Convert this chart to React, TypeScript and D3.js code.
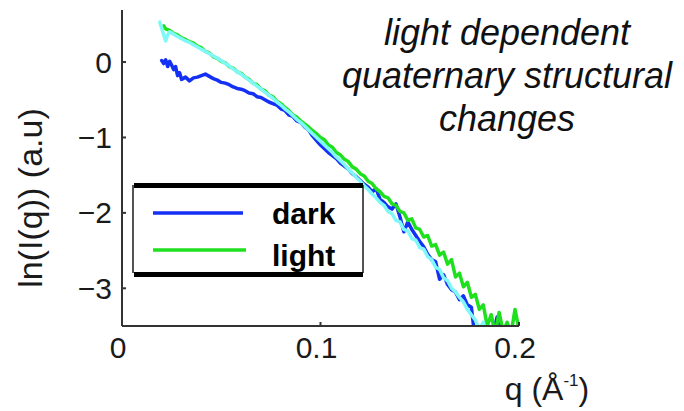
import React from "react";
import * as d3 from "d3";

// ---- data ----
const qDark = [0.020,0.021,0.022,0.023,0.024,0.025,0.026,0.027,0.028,0.029,0.030,0.032,0.034,0.036,0.038,0.040,0.042,0.044,0.046,0.048,0.050,0.052,0.054,0.056,0.058,0.060,0.062,0.064,0.066,0.068,0.070,0.072,0.074,0.076,0.078,0.080,0.082,0.084,0.086,0.088,0.090,0.092,0.094,0.096,0.098,0.100,0.102,0.104,0.106,0.108,0.110,0.112,0.114,0.116,0.118,0.120,0.122,0.124,0.126,0.128,0.130,0.132,0.134,0.136,0.138,0.140,0.142,0.144,0.146,0.148,0.150,0.152,0.154,0.156,0.158,0.160,0.162,0.164,0.166,0.168,0.170,0.172,0.174,0.176,0.178,0.180,0.182,0.186,0.189,0.191,0.195];
const lnDark = [0.02,-0.02,0.03,-0.06,0.01,-0.04,-0.10,-0.06,-0.18,-0.14,-0.23,-0.20,-0.25,-0.21,-0.20,-0.18,-0.16,-0.19,-0.22,-0.24,-0.27,-0.28,-0.30,-0.33,-0.35,-0.36,-0.38,-0.41,-0.42,-0.46,-0.47,-0.50,-0.53,-0.55,-0.57,-0.62,-0.64,-0.70,-0.72,-0.78,-0.80,-0.86,-0.90,-0.98,-1.04,-1.10,-1.15,-1.20,-1.24,-1.28,-1.34,-1.38,-1.42,-1.48,-1.52,-1.57,-1.62,-1.66,-1.72,-1.68,-1.82,-1.86,-1.92,-1.95,-1.88,-2.05,-2.25,-2.12,-2.22,-2.30,-2.38,-2.45,-2.55,-2.62,-2.65,-2.88,-2.82,-2.95,-3.02,-3.05,-3.15,-3.10,-3.22,-3.25,-3.70,-3.80,-3.90,-3.70,-3.38,-3.70,-3.80];

const qLight = [0.021,0.022,0.024,0.026,0.028,0.030,0.032,0.034,0.036,0.038,0.040,0.042,0.044,0.046,0.048,0.050,0.052,0.054,0.056,0.058,0.060,0.062,0.064,0.066,0.068,0.070,0.072,0.074,0.076,0.078,0.080,0.082,0.084,0.086,0.088,0.090,0.092,0.094,0.096,0.098,0.100,0.102,0.104,0.106,0.108,0.110,0.112,0.114,0.116,0.118,0.120,0.122,0.124,0.126,0.128,0.130,0.132,0.134,0.136,0.138,0.140,0.142,0.144,0.146,0.148,0.150,0.152,0.154,0.156,0.158,0.160,0.162,0.164,0.166,0.168,0.170,0.172,0.174,0.176,0.178,0.180,0.182,0.184,0.186,0.188,0.190,0.192,0.194,0.196,0.198,0.200];
const lnLight = [0.48,0.44,0.42,0.38,0.36,0.32,0.30,0.27,0.25,0.21,0.19,0.14,0.12,0.07,0.05,0.01,-0.01,-0.06,-0.08,-0.13,-0.15,-0.20,-0.23,-0.28,-0.30,-0.36,-0.38,-0.44,-0.46,-0.52,-0.55,-0.60,-0.64,-0.70,-0.73,-0.78,-0.82,-0.86,-0.91,-0.95,-1.00,-1.03,-1.10,-1.13,-1.20,-1.23,-1.29,-1.32,-1.39,-1.42,-1.48,-1.51,-1.58,-1.61,-1.68,-1.72,-1.78,-1.80,-1.88,-1.90,-1.98,-2.00,-2.10,-2.08,-2.20,-2.22,-2.32,-2.30,-2.44,-2.42,-2.56,-2.52,-2.68,-2.62,-2.85,-2.80,-2.98,-2.92,-3.12,-3.08,-3.28,-3.22,-3.50,-3.35,-3.60,-3.32,-3.58,-3.45,-3.60,-3.28,-3.55];

const qFit = [0.019,0.020,0.021,0.022,0.023,0.024,0.026,0.028,0.030,0.032,0.034,0.036,0.038,0.040,0.042,0.044,0.046,0.048,0.050,0.052,0.054,0.056,0.058,0.060,0.062,0.064,0.066,0.068,0.070,0.072,0.074,0.076,0.078,0.080,0.082,0.084,0.086,0.088,0.090,0.092,0.094,0.096,0.098,0.100,0.102,0.104,0.106,0.108,0.110,0.112,0.114,0.116,0.118,0.120,0.122,0.124,0.126,0.128,0.130,0.132,0.134,0.136,0.138,0.140,0.142,0.144,0.146,0.148,0.150,0.152,0.154,0.156,0.158,0.160,0.162,0.164,0.166,0.168,0.170,0.172,0.174,0.176,0.178,0.180,0.182,0.184];
const lnFit = [0.53,0.45,0.36,0.28,0.36,0.40,0.37,0.34,0.31,0.28,0.26,0.23,0.20,0.17,0.14,0.11,0.08,0.05,0.02,-0.02,-0.05,-0.09,-0.13,-0.16,-0.20,-0.24,-0.28,-0.32,-0.36,-0.40,-0.44,-0.48,-0.53,-0.57,-0.62,-0.66,-0.71,-0.76,-0.80,-0.85,-0.90,-0.95,-1.00,-1.05,-1.10,-1.15,-1.20,-1.26,-1.31,-1.36,-1.42,-1.47,-1.53,-1.58,-1.64,-1.69,-1.75,-1.80,-1.86,-1.90,-1.98,-2.01,-2.10,-2.12,-2.22,-2.24,-2.34,-2.36,-2.46,-2.48,-2.58,-2.62,-2.72,-2.75,-2.86,-2.90,-3.00,-3.05,-3.12,-3.18,-3.28,-3.35,-3.42,-3.55,-3.45,-3.65];

const xTicks = [0, 0.1, 0.2];
const xTickLabels = ["0", "0.1", "0.2"];
const yTicks = [0, -1, -2, -3];
const yTickLabels = ["0", "\u22121", "\u22122", "\u22123"];
const titleLines = ["light dependent", "quaternary structural", "changes"];
const legendLabels = ["dark", "light"];

const W = 684, H = 411;
const FONT = "Liberation Sans, Arial, Helvetica, sans-serif";

export default function App() {
  const x = d3.scaleLinear().domain([0, 0.2]).range([122, 519]);
  const y = d3.scaleLinear().domain([-3.5, 0.69]).range([326, 10]);
  const line = d3.line<[number, number]>().x(d => x(d[0])).y(d => y(d[1]));
  const zip = (a: number[], b: number[]) => a.map((v, i) => [v, b[i]] as [number, number]);

  const series = [
    { q: qDark, v: lnDark, color: "#1530f5" },
    { q: qLight, v: lnLight, color: "#1ee01e" },
    { q: qFit, v: lnFit, color: "#80f8f8" },
  ];

  return (
    <svg width={W} height={H} style={{ position: "absolute", left: 0, top: 0, background: "#fff" }} fontFamily={FONT}>
      <defs>
        <clipPath id="plotclip">
          <rect x={x(0)} y={y(0.69)} width={x(0.2) - x(0) + 2} height={y(-3.5) - y(0.69)} />
        </clipPath>
      </defs>

      {/* curves */}
      <g clipPath="url(#plotclip)">
        {series.map((s, i) => (
          <path key={i} d={line(zip(s.q, s.v)) || ""} fill="none" stroke={s.color}
            strokeWidth={3.5} strokeLinejoin="round" strokeLinecap="round" />
        ))}
      </g>

      {/* axes */}
      <line x1={x(0)} x2={x(0)} y1={y(0.69)} y2={y(-3.5)} stroke="#333" strokeWidth={2} />
      <line x1={x(0)} x2={x(0.2)} y1={y(-3.5)} y2={y(-3.5)} stroke="#333" strokeWidth={2} />
      {yTicks.map((t, i) => (
        <g key={"y" + i}>
          <line x1={x(0)} x2={x(0) + 4} y1={y(t)} y2={y(t)} stroke="#333" strokeWidth={2} />
          <text x={112} y={y(t)} dy="0.35em" textAnchor="end" fontSize={30} fill="#1a1a1a">{yTickLabels[i]}</text>
        </g>
      ))}
      {xTicks.map((t, i) => (
        <g key={"x" + i}>
          <line x1={x(t)} x2={x(t)} y1={y(-3.5)} y2={y(-3.5) - 4} stroke="#333" strokeWidth={2} />
          <text x={x(t) - 4} y={358} textAnchor="middle" fontSize={30} fill="#1a1a1a">{xTickLabels[i]}</text>
        </g>
      ))}

      {/* axis labels */}
      <text transform="translate(42,198) rotate(-90)" textAnchor="middle" fontSize={34} fill="#1a1a1a">ln(I(q)) (a.u)</text>
      <text x={547} y={400} textAnchor="middle" fontSize={32} fill="#1a1a1a">
        q (Å<tspan fontSize={17} dy={-14}>-1</tspan><tspan dy={14}>)</tspan>
      </text>

      {/* title annotation */}
      {titleLines.map((t, i) => (
        <text key={"t" + i} x={507} y={45 + i * 43} textAnchor="middle" fontSize={36} fontStyle="italic" fill="#111">{t}</text>
      ))}

      {/* legend */}
      <rect x={133} y={185} width={230} height={89} fill="#fff" />
      <line x1={133} x2={133} y1={185} y2={273} stroke="#555" strokeWidth={2} />
      <line x1={363} x2={363} y1={185} y2={273} stroke="#555" strokeWidth={2} />
      <line x1={153} x2={243} y1={213} y2={213} stroke={series[0].color} strokeWidth={3.5} />
      <line x1={153} x2={246} y1={250} y2={250} stroke={series[1].color} strokeWidth={3.5} />
      <text x={272} y={224} fontSize={30} fontWeight="bold" fill="#000">{legendLabels[0]}</text>
      <text x={272} y={266} fontSize={30} fontWeight="bold" fill="#000">{legendLabels[1]}</text>
      <rect x={134} y={183} width={229} height={5} fill="#000" />
      <rect x={134} y={272} width={229} height={5} fill="#000" />
    </svg>
  );
}
